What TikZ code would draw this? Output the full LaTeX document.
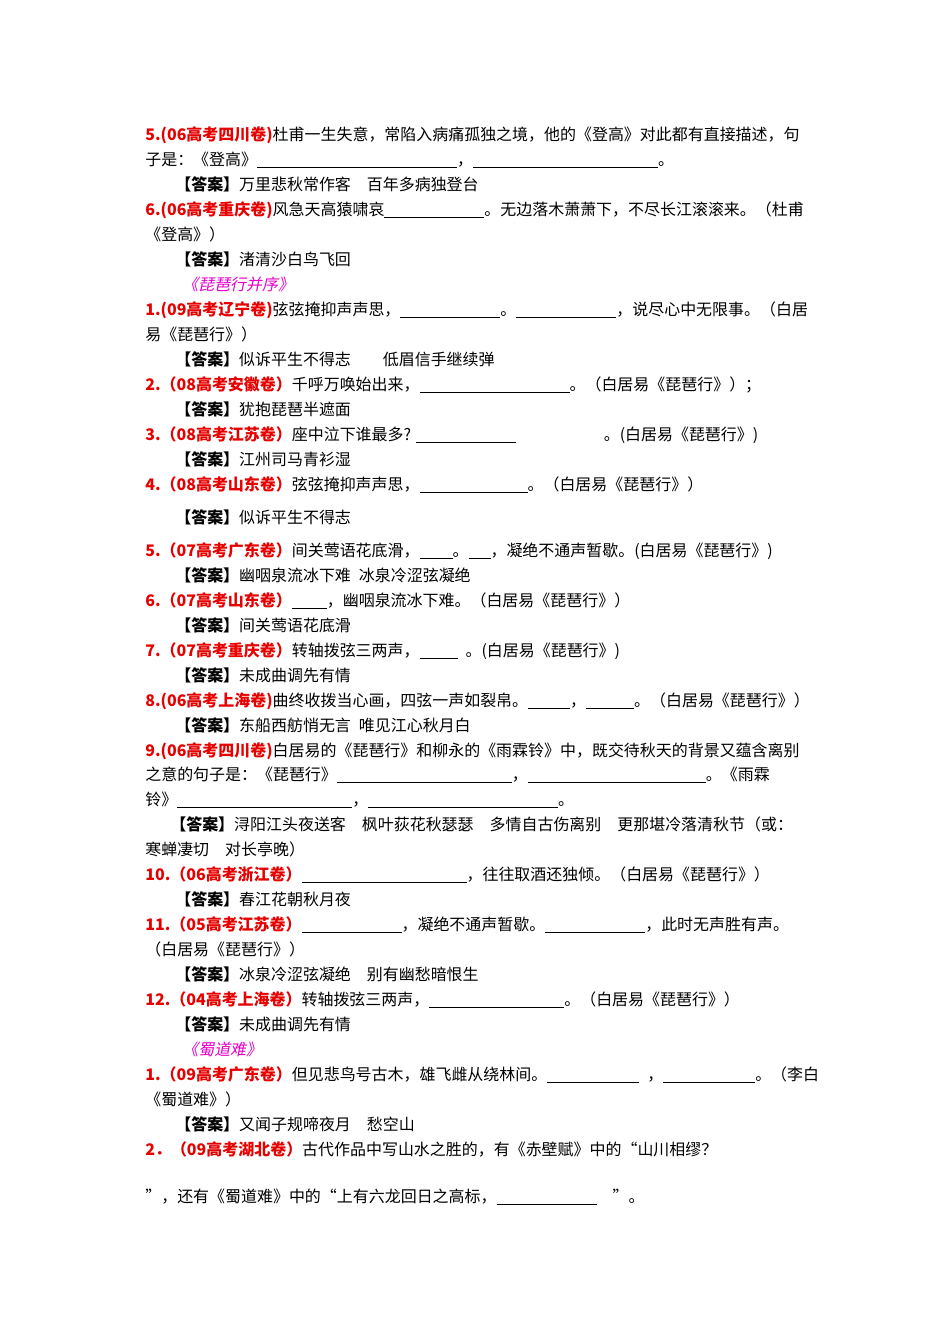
\documentclass[tikz,border=0pt]{standalone}
\usepackage{fontspec}
\setmainfont{Noto Sans CJK SC}
\newfontfamily\slantf[FakeSlant=0.2]{Noto Sans CJK SC}
\definecolor{lbred}{RGB}{230,0,0}
\definecolor{lbmag}{RGB}{230,0,200}
\newcommand{\lab}[1]{\textcolor{lbred}{\bfseries #1}}
\newcommand{\ans}{{\bfseries 【答案】}}
\newcommand{\bl}[1]{\rule[-2pt]{#1\dimexpr 0.6263pt\relax}{0.5pt}}
\tikzset{ln/.style={anchor=base west,inner sep=0pt,font=\fontsize{10pt}{12pt}\selectfont},
hd/.style={ln,text=lbmag,font=\fontsize{10pt}{12pt}\selectfont\slantf}}
\begin{document}
\begin{tikzpicture}[x=0.6263pt,y=-0.6263pt]
\useasboundingbox (0,0) rectangle (950,1344);
\node[ln] (l1) at (145,140) {\lab{5.(06高考四川卷)}杜甫一生失意，常陷入病痛孤独之境，他的《登高》对此都有直接描述，句};
\node[ln] (l2) at (145,165) {子是：《登高》\bl{200}，\bl{185}。};
\node[ln] (l3) at (175,190) {\ans 万里悲秋常作客\quad 百年多病独登台};
\node[ln] (l4) at (145,215) {\lab{6.(06高考重庆卷)}风急天高猿啸哀\bl{100}。无边落木萧萧下，不尽长江滚滚来。（杜甫};
\node[ln] (l5) at (145,240) {《登高》）};
\node[ln] (l6) at (175,265) {\ans 渚清沙白鸟飞回};
\node[hd] (h1) at (182,290) {《琵琶行并序》};
\node[ln] (l7) at (145,315) {\lab{1.(09高考辽宁卷)}弦弦掩抑声声思，\bl{100}。\bl{100}，说尽心中无限事。（白居};
\node[ln] (l8) at (145,340) {易《琵琶行》）};
\node[ln] (l9) at (175,365) {\ans 似诉平生不得志\quad\quad 低眉信手继续弹};
\node[ln] (l10) at (145,390) {\lab{2.（08高考安徽卷）}千呼万唤始出来，\bl{150}。（白居易《琵琶行》）；};
\node[ln] (l11) at (175,415) {\ans 犹抱琵琶半遮面};
\node[ln] (l12) at (145,440) {\lab{3.（08高考江苏卷）}座中泣下谁最多? \bl{100}\hspace{55pt}。(白居易《琵琶行》)};
\node[ln] (l13) at (175,465) {\ans 江州司马青衫湿};
\node[ln] (l14) at (145,490) {\lab{4.（08高考山东卷）}弦弦掩抑声声思，\bl{108}。（白居易《琵琶行》）};
\node[ln] (l15) at (175,523) {\ans 似诉平生不得志};
\node[ln] (l16) at (145,556) {\lab{5.（07高考广东卷）}间关莺语花底滑，\bl{33}。\bl{22}，凝绝不通声暂歇。(白居易《琵琶行》)};
\node[ln] (l17) at (175,581) {\ans 幽咽泉流冰下难\enspace 冰泉冷涩弦凝绝};
\node[ln] (l18) at (145,606) {\lab{6.（07高考山东卷）}\bl{35}，幽咽泉流冰下难。（白居易《琵琶行》）};
\node[ln] (l19) at (175,631) {\ans 间关莺语花底滑};
\node[ln] (l20) at (145,656) {\lab{7.（07高考重庆卷）}转轴拨弦三两声，\bl{38}\enspace。(白居易《琵琶行》)};
\node[ln] (l21) at (175,681) {\ans 未成曲调先有情};
\node[ln] (l22) at (145,706) {\lab{8.(06高考上海卷)}曲终收拨当心画，四弦一声如裂帛。\bl{42}，\bl{48}。（白居易《琵琶行》）};
\node[ln] (l23) at (175,731) {\ans 东船西舫悄无言\enspace 唯见江心秋月白};
\node[ln] (l24) at (145,756) {\lab{9.(06高考四川卷)}白居易的《琵琶行》和柳永的《雨霖铃》中，既交待秋天的背景又蕴含离别};
\node[ln] (l25) at (145,780) {之意的句子是：《琵琶行》\bl{175}，\bl{178}。《雨霖};
\node[ln] (l26) at (145,805) {铃》\bl{175}，\bl{190}。};
\node[ln] (l27) at (170,830) {\ans 浔阳江头夜送客\quad 枫叶荻花秋瑟瑟\quad 多情自古伤离别\quad 更那堪冷落清秋节（或：};
\node[ln] (l28) at (145,855) {寒蝉凄切\quad 对长亭晚）};
\node[ln] (l29) at (145,880) {\lab{10.（06高考浙江卷）}\bl{165}，往往取酒还独倾。（白居易《琵琶行》）};
\node[ln] (l30) at (175,905) {\ans 春江花朝秋月夜};
\node[ln] (l31) at (145,930) {\lab{11.（05高考江苏卷）}\bl{100}，凝绝不通声暂歇。\bl{100}，此时无声胜有声。};
\node[ln] (l32) at (145,955) {（白居易《琵琶行》）};
\node[ln] (l33) at (175,980) {\ans 冰泉冷涩弦凝绝\quad 别有幽愁暗恨生};
\node[ln] (l34) at (145,1005) {\lab{12.（04高考上海卷）}转轴拨弦三两声，\bl{135}。（白居易《琵琶行》）};
\node[ln] (l35) at (175,1030) {\ans 未成曲调先有情};
\node[hd] (h2) at (182,1055) {《蜀道难》};
\node[ln] (l36) at (145,1080) {\lab{1.（09高考广东卷）}但见悲鸟号古木，雄飞雌从绕林间。\bl{92}\enspace，\bl{92}。（李白};
\node[ln] (l37) at (145,1105) {《蜀道难》）};
\node[ln] (l38) at (175,1130) {\ans 又闻子规啼夜月\quad 愁空山};
\node[ln] (l39) at (145,1155) {\lab{2．（09高考湖北卷）}古代作品中写山水之胜的，有《赤壁赋》中的“山川相缪？};
\node[ln] (l40) at (145,1202) {”，还有《蜀道难》中的“上有六龙回日之高标，\bl{100}\quad ”。};
\end{tikzpicture}
\end{document}
